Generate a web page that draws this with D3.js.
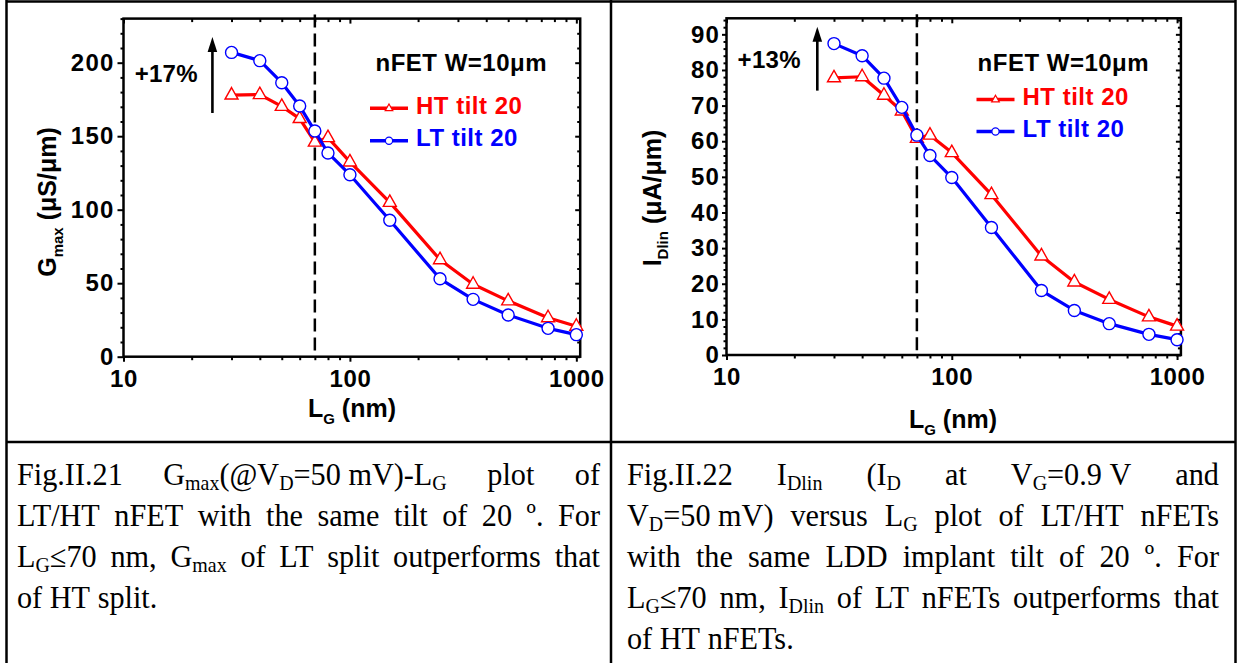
<!DOCTYPE html>
<html>
<head>
<meta charset="utf-8">
<script src="https://cdn.jsdelivr.net/npm/d3@7"></script>
<style>
  body { margin: 0; background: #fff; }
  svg { display: block; }
</style>
</head>
<body>
<svg id="page" width="1238" height="663"></svg>
<script>
(function () {
  'use strict'

  // Gate length (nm), shared by both plots
  var lg = [30, 40, 50, 60, 70, 80, 100, 150, 250, 350, 500, 750, 1000]

  // Fig.II.21 Gmax (uS/um)
  var gmaxHT = [178, 178.3, 170.3, 162, 146, 149, 132.5, 105, 66, 49.3, 38, 26.5, 20.7]
  var gmaxLT = [207, 201.4, 186.4, 170.5, 153.5, 138.6, 123.8, 92.8, 53, 39, 28.4, 19.3, 15]

  // Fig.II.22 IDlin (uA/um)
  var idlinHT = [77.8, 78.1, 72.9, 68.5, 60.8, 61.7, 56.8, 45, 27.8, 20.5, 15.6, 10.7, 8.1]
  var idlinLT = [87.4, 84, 77.7, 69.5, 61.7, 56, 49.8, 35.8, 18.1, 12.5, 8.8, 5.8, 4.3]

  // Ticks
  var xDomain = [10, 1040]
  var xTicks = [10, 100, 1000]
  var xMinor = [20, 30, 40, 50, 60, 70, 80, 90, 200, 300, 400, 500, 600, 700, 800, 900]
  var gmaxTicks = [0, 50, 100, 150, 200]
  var idlinTicks = [0, 10, 20, 30, 40, 50, 60, 70, 80, 90]

  var seriesNames = ['HT tilt 20', 'LT tilt 20']
  var seriesColors = ['#ff0000', '#0000ff']
  var note = 'nFET W=10\u03bcm'
  var cutoff = 70

  // Captions ("_{..}" = subscript, \u00a0 = space that does not stretch)
  var capLeft = [
    'Fig.II.21 G_{max}(@V_{D}=50\u00a0mV)-L_{G} plot of',
    'LT/HT nFET with the same tilt of 20 \u00ba. For',
    'L_{G}\u226470 nm, G_{max} of LT split outperforms that',
    'of HT split.'
  ]
  var capRight = [
    'Fig.II.22 I_{Dlin} (I_{D} at V_{G}=0.9\u00a0V and',
    'V_{D}=50\u00a0mV) versus L_{G} plot of LT/HT nFETs',
    'with the same LDD implant tilt of 20 \u00ba. For',
    'L_{G}\u226470 nm, I_{Dlin} of LT nFETs outperforms that',
    'of HT nFETs.'
  ]

  var sans = "'Liberation Sans', Arial, Helvetica, sans-serif"
  var serif = "'Liberation Serif', 'Times New Roman', serif"

  var svg = d3.select('#page')

  // Table lines
  var table = svg.append('g').attr('stroke', '#000').attr('stroke-width', 2.5)
  table.append('line').attr('x1', 6).attr('x2', 1236).attr('y1', 1.5).attr('y2', 1.5)
  table.append('line').attr('x1', 6).attr('x2', 1236).attr('y1', 442).attr('y2', 442)
  table.append('line').attr('x1', 6.5).attr('x2', 6.5).attr('y1', 0).attr('y2', 663)
  table.append('line').attr('x1', 611).attr('x2', 611).attr('y1', 0).attr('y2', 663)
  table.append('line').attr('x1', 1235.5).attr('x2', 1235.5).attr('y1', 0).attr('y2', 663)

  drawChart({
    left: 123.5, right: 580.2, top: 18.6, bottom: 356.7,
    yMax: 230, yTicks: gmaxTicks, yMinor: d3.range(0, 231, 10),
    yTick: 6, yPad: 3,
    ht: gmaxHT, lt: gmaxLT,
    yTitle: 'G_{max} (\u03bcS/\u03bcm)', yTitleX: 56, yTitleY: 202,
    xTitleX: 352, xTitleY: 417,
    note: [375.5, 71], legX: 370, legY: [108.3, 140.7],
    arrow: [24.7, 165.8, 217.5], pct: ['+17%', 11.2, 187]
  })

  drawChart({
    left: 726.5, right: 1180.9, top: 18.3, bottom: 355,
    yMax: 94.5, yTicks: idlinTicks, yMinor: d3.range(0, 95, 2),
    yTick: 4.5, yPad: 2,
    ht: idlinHT, lt: idlinLT,
    yTitle: 'I_{Dlin} (\u03bcA/\u03bcm)', yTitleX: 661, yTitleY: 198,
    xTitleX: 953, xTitleY: 428,
    note: [977.6, 70.5], legX: 976.5, legY: [99.5, 131.5],
    arrow: [25.3, 74.2, 92.1], pct: ['+13%', 11.2, 80.5]
  })

  caption(capLeft, 17, 600, 485)
  caption(capRight, 627, 1219, 485)

  // Text with "_{..}" subscripts as tspans
  function rich (text, str, size, subScale, subShift) {
    var shift = 0
    str.split(/(_\{[^}]*\})/).forEach(function (p) {
      if (!p) return
      var sub = p.slice(0, 2) === '_{'
      var dy = sub ? size * subShift : 0
      text.append('tspan')
        .attr('dy', dy - shift)
        .attr('font-size', sub ? size * subScale : size)
        .text(sub ? p.slice(2, -1) : p)
      shift = dy
    })
  }

  function drawChart (c) {
    var x = d3.scaleLog().domain(xDomain).range([c.left, c.right])
    var y = d3.scaleLinear().domain([0, c.yMax]).range([c.bottom, c.top])
    var g = svg.append('g')

    function axis (a, at, size, pad, labels, spacing) {
      var ax = g.append('g').attr('transform', at)
        .call(a.tickSize(size).tickPadding(pad)
          .tickFormat(function (d) { return labels ? d : '' }))
      ax.select('.domain').remove()
      ax.selectAll('line').attr('stroke', '#000').attr('stroke-width', 2)
      ax.attr('font-family', sans).attr('font-size', 24).attr('font-weight', 'bold')
      ax.selectAll('text').attr('fill', '#000').attr('letter-spacing', spacing || 0)
    }

    var yMinor = c.yMinor.filter(function (d) { return c.yTicks.indexOf(d) < 0 })

    // Bottom / left with labels, top / right mirrored inwards
    axis(d3.axisBottom(x).tickValues(xTicks), 'translate(0,' + c.bottom + ')', 5, 8, true, 0.6)
    axis(d3.axisBottom(x).tickValues(xMinor), 'translate(0,' + c.bottom + ')', 3.5, 0, false)
    axis(d3.axisBottom(x).tickValues(xTicks), 'translate(0,' + c.top + ')', 5, 0, false)
    axis(d3.axisBottom(x).tickValues(xMinor), 'translate(0,' + c.top + ')', 3.5, 0, false)
    axis(d3.axisLeft(y).tickValues(c.yTicks), 'translate(' + c.left + ',0)', c.yTick, c.yPad, true, 1.2)
    axis(d3.axisLeft(y).tickValues(yMinor), 'translate(' + c.left + ',0)', 3, 0, false)
    axis(d3.axisLeft(y).tickValues(c.yTicks), 'translate(' + c.right + ',0)', 5, 0, false)
    axis(d3.axisLeft(y).tickValues(yMinor), 'translate(' + c.right + ',0)', 3, 0, false)

    g.append('rect')
      .attr('x', c.left).attr('y', c.top)
      .attr('width', c.right - c.left).attr('height', c.bottom - c.top)
      .attr('fill', 'none').attr('stroke', '#000').attr('stroke-width', 2.5)

    // LG = 70 nm marker
    g.append('line')
      .attr('x1', x(cutoff)).attr('x2', x(cutoff))
      .attr('y1', c.top - 4).attr('y2', c.bottom - 2)
      .attr('stroke', '#000').attr('stroke-width', 2.5)
      .attr('stroke-dasharray', '13,6')

    var line = d3.line()
      .x(function (d) { return x(d[0]) })
      .y(function (d) { return y(d[1]) })

    var tri = 'M0,-7.5L6.5,4L-6.5,4Z'
    var triSmall = 'M0,-4.3L3.8,2.4L-3.8,2.4Z'

    ;[c.ht, c.lt].forEach(function (vals, i) {
      var pts = d3.zip(lg, vals)
      g.append('path').datum(pts)
        .attr('d', line)
        .attr('fill', 'none')
        .attr('stroke', seriesColors[i])
        .attr('stroke-width', 3.2)
        .attr('stroke-linejoin', 'round')

      var m = g.append('g').selectAll('.m').data(pts).enter()
      if (i === 0) {
        m.append('path')
          .attr('d', tri)
          .attr('transform', function (d) { return 'translate(' + x(d[0]) + ',' + y(d[1]) + ')' })
          .attr('fill', '#fff').attr('stroke', seriesColors[i]).attr('stroke-width', 1.4)
      } else {
        m.append('circle')
          .attr('cx', function (d) { return x(d[0]) })
          .attr('cy', function (d) { return y(d[1]) })
          .attr('r', 6)
          .attr('fill', '#fff').attr('stroke', seriesColors[i]).attr('stroke-width', 1.4)
      }
    })

    // Legend
    g.append('text')
      .attr('x', c.note[0]).attr('y', c.note[1])
      .attr('font-family', sans).attr('font-size', 24).attr('font-weight', 'bold')
      .attr('letter-spacing', 0.5)
      .text(note)

    seriesNames.forEach(function (name, i) {
      var ly = c.legY[i]
      g.append('line')
        .attr('x1', c.legX).attr('x2', c.legX + 38)
        .attr('y1', ly).attr('y2', ly)
        .attr('stroke', seriesColors[i]).attr('stroke-width', 3.6)
      if (i === 0) {
        g.append('path').attr('d', triSmall)
          .attr('transform', 'translate(' + (c.legX + 19) + ',' + ly + ')')
          .attr('fill', '#fff').attr('stroke', seriesColors[i]).attr('stroke-width', 1.2)
      } else {
        g.append('circle').attr('cx', c.legX + 19).attr('cy', ly).attr('r', 3.6)
          .attr('fill', '#fff').attr('stroke', seriesColors[i]).attr('stroke-width', 1.2)
      }
      g.append('text')
        .attr('x', c.legX + 46).attr('y', ly + 5.5)
        .attr('font-family', sans).attr('font-size', 24).attr('font-weight', 'bold')
        .attr('letter-spacing', 0.5)
        .attr('fill', seriesColors[i])
        .text(name)
    })

    // Improvement arrow and label
    var ax = x(c.arrow[0])
    var tail = y(c.arrow[1])
    var tip = y(c.arrow[2])
    g.append('line')
      .attr('x1', ax).attr('x2', ax).attr('y1', tail).attr('y2', tip + 12)
      .attr('stroke', '#000').attr('stroke-width', 2.6)
    g.append('path')
      .attr('d', 'M' + ax + ',' + tip + 'L' + (ax + 4.8) + ',' + (tip + 15) +
        'L' + (ax - 4.8) + ',' + (tip + 15) + 'Z')
      .attr('fill', '#000')
    g.append('text')
      .attr('x', x(c.pct[1])).attr('y', y(c.pct[2]))
      .attr('font-family', sans).attr('font-size', 24).attr('font-weight', 'bold')
      .attr('letter-spacing', 0.3)
      .text(c.pct[0])

    // Axis titles
    var yt = g.append('text')
      .attr('transform', 'translate(' + c.yTitleX + ',' + c.yTitleY + ') rotate(-90)')
      .attr('text-anchor', 'middle')
      .attr('font-family', sans).attr('font-weight', 'bold')
    rich(yt, c.yTitle, 25, 0.6, 0.28)

    var xt = g.append('text')
      .attr('x', c.xTitleX).attr('y', c.xTitleY)
      .attr('text-anchor', 'middle')
      .attr('font-family', sans).attr('font-weight', 'bold')
    rich(xt, 'L_{G} (nm)', 25, 0.6, 0.28)
  }

  // Justified caption lines, last line left aligned; glyphs a little narrow
  function caption (lines, x0, x1, y0) {
    var size = 31.5
    var squeeze = 0.96
    var gap = 41
    var g = svg.append('g').attr('font-family', serif).attr('fill', '#000')
    lines.forEach(function (str, i) {
      var ly = y0 + i * gap
      var words = str.split(' ').map(function (w) {
        var t = g.append('text')
        rich(t, w, size, 0.66, 0.16)
        return { t: t, w: t.node().getComputedTextLength() * squeeze }
      })
      var total = d3.sum(words, function (d) { return d.w })
      var space = i === lines.length - 1
        ? size * 0.25 * squeeze
        : (x1 - x0 - total) / (words.length - 1)
      var cx = x0
      words.forEach(function (d) {
        d.t.attr('transform', 'translate(' + cx + ',' + ly + ') scale(' + squeeze + ',1)')
        cx += d.w + space
      })
    })
  }
}())
</script>
</body>
</html>
